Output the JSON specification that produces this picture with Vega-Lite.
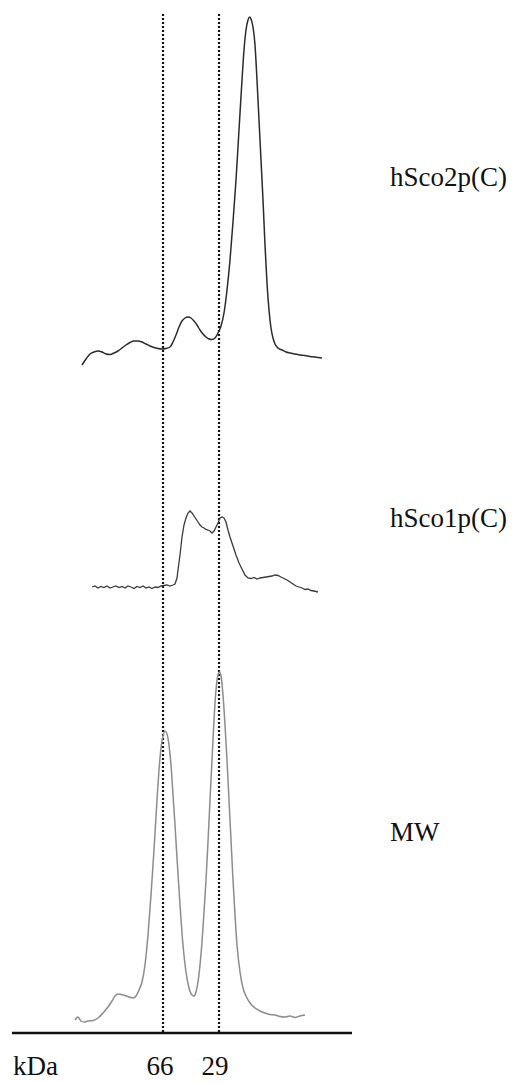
{
  "$schema": "https://vega.github.io/schema/vega-lite/v6.json",
  "width": 525,
  "height": 1082,
  "autosize": "none",
  "padding": 0,
  "background": "white",
  "config": {"view": {"stroke": null}},
  "datasets": {
    "traces": [
      {"sample": "hSco2p(C)", "pos": 82, "signal": 365}, {"sample": "hSco2p(C)", "pos": 86, "signal": 359}, {"sample": "hSco2p(C)", "pos": 90, "signal": 354}, {"sample": "hSco2p(C)", "pos": 94, "signal": 352}, {"sample": "hSco2p(C)", "pos": 98, "signal": 351}, {"sample": "hSco2p(C)", "pos": 102, "signal": 352}, {"sample": "hSco2p(C)", "pos": 106, "signal": 354}, {"sample": "hSco2p(C)", "pos": 110, "signal": 354.5}, {"sample": "hSco2p(C)", "pos": 114, "signal": 353}, {"sample": "hSco2p(C)", "pos": 118, "signal": 351}, {"sample": "hSco2p(C)", "pos": 122, "signal": 348}, {"sample": "hSco2p(C)", "pos": 126, "signal": 345}, {"sample": "hSco2p(C)", "pos": 130, "signal": 342.5}, {"sample": "hSco2p(C)", "pos": 134, "signal": 341}, {"sample": "hSco2p(C)", "pos": 138, "signal": 341}, {"sample": "hSco2p(C)", "pos": 142, "signal": 342}, {"sample": "hSco2p(C)", "pos": 146, "signal": 344}, {"sample": "hSco2p(C)", "pos": 150, "signal": 346}, {"sample": "hSco2p(C)", "pos": 154, "signal": 347.5}, {"sample": "hSco2p(C)", "pos": 158, "signal": 348.5}, {"sample": "hSco2p(C)", "pos": 162, "signal": 349}, {"sample": "hSco2p(C)", "pos": 166, "signal": 348.5}, {"sample": "hSco2p(C)", "pos": 170, "signal": 347}, {"sample": "hSco2p(C)", "pos": 173, "signal": 342}, {"sample": "hSco2p(C)", "pos": 176, "signal": 335}, {"sample": "hSco2p(C)", "pos": 179, "signal": 327}, {"sample": "hSco2p(C)", "pos": 182, "signal": 321}, {"sample": "hSco2p(C)", "pos": 185, "signal": 318}, {"sample": "hSco2p(C)", "pos": 188, "signal": 317}, {"sample": "hSco2p(C)", "pos": 191, "signal": 318}, {"sample": "hSco2p(C)", "pos": 194, "signal": 321}, {"sample": "hSco2p(C)", "pos": 197, "signal": 325}, {"sample": "hSco2p(C)", "pos": 200, "signal": 330}, {"sample": "hSco2p(C)", "pos": 203, "signal": 334}, {"sample": "hSco2p(C)", "pos": 206, "signal": 337}, {"sample": "hSco2p(C)", "pos": 209, "signal": 339}, {"sample": "hSco2p(C)", "pos": 212, "signal": 339.5}, {"sample": "hSco2p(C)", "pos": 215, "signal": 338}, {"sample": "hSco2p(C)", "pos": 218, "signal": 333}, {"sample": "hSco2p(C)", "pos": 221, "signal": 326}, {"sample": "hSco2p(C)", "pos": 224, "signal": 313}, {"sample": "hSco2p(C)", "pos": 227, "signal": 290}, {"sample": "hSco2p(C)", "pos": 230, "signal": 260}, {"sample": "hSco2p(C)", "pos": 233, "signal": 222}, {"sample": "hSco2p(C)", "pos": 236, "signal": 180}, {"sample": "hSco2p(C)", "pos": 239, "signal": 130}, {"sample": "hSco2p(C)", "pos": 242, "signal": 80}, {"sample": "hSco2p(C)", "pos": 244, "signal": 50}, {"sample": "hSco2p(C)", "pos": 246, "signal": 30}, {"sample": "hSco2p(C)", "pos": 248, "signal": 20}, {"sample": "hSco2p(C)", "pos": 249.5, "signal": 17}, {"sample": "hSco2p(C)", "pos": 251, "signal": 19}, {"sample": "hSco2p(C)", "pos": 253, "signal": 27}, {"sample": "hSco2p(C)", "pos": 255, "signal": 45}, {"sample": "hSco2p(C)", "pos": 257, "signal": 80}, {"sample": "hSco2p(C)", "pos": 259, "signal": 120}, {"sample": "hSco2p(C)", "pos": 261, "signal": 160}, {"sample": "hSco2p(C)", "pos": 263, "signal": 200}, {"sample": "hSco2p(C)", "pos": 265, "signal": 245}, {"sample": "hSco2p(C)", "pos": 267, "signal": 283}, {"sample": "hSco2p(C)", "pos": 269, "signal": 310}, {"sample": "hSco2p(C)", "pos": 271, "signal": 328}, {"sample": "hSco2p(C)", "pos": 273, "signal": 338}, {"sample": "hSco2p(C)", "pos": 275, "signal": 344}, {"sample": "hSco2p(C)", "pos": 278, "signal": 348}, {"sample": "hSco2p(C)", "pos": 282, "signal": 350}, {"sample": "hSco2p(C)", "pos": 286, "signal": 352}, {"sample": "hSco2p(C)", "pos": 290, "signal": 353}, {"sample": "hSco2p(C)", "pos": 295, "signal": 354}, {"sample": "hSco2p(C)", "pos": 300, "signal": 355}, {"sample": "hSco2p(C)", "pos": 305, "signal": 355.5}, {"sample": "hSco2p(C)", "pos": 310, "signal": 356.5}, {"sample": "hSco2p(C)", "pos": 315, "signal": 357}, {"sample": "hSco2p(C)", "pos": 322, "signal": 358},

      {"sample": "hSco1p(C)", "pos": 92, "signal": 587}, {"sample": "hSco1p(C)", "pos": 95, "signal": 586}, {"sample": "hSco1p(C)", "pos": 98, "signal": 588}, {"sample": "hSco1p(C)", "pos": 101, "signal": 586.5}, {"sample": "hSco1p(C)", "pos": 104, "signal": 587.5}, {"sample": "hSco1p(C)", "pos": 107, "signal": 586}, {"sample": "hSco1p(C)", "pos": 110, "signal": 588}, {"sample": "hSco1p(C)", "pos": 113, "signal": 587}, {"sample": "hSco1p(C)", "pos": 116, "signal": 586}, {"sample": "hSco1p(C)", "pos": 119, "signal": 587.5}, {"sample": "hSco1p(C)", "pos": 122, "signal": 586.5}, {"sample": "hSco1p(C)", "pos": 125, "signal": 588}, {"sample": "hSco1p(C)", "pos": 128, "signal": 586}, {"sample": "hSco1p(C)", "pos": 131, "signal": 587}, {"sample": "hSco1p(C)", "pos": 134, "signal": 588.5}, {"sample": "hSco1p(C)", "pos": 137, "signal": 586.5}, {"sample": "hSco1p(C)", "pos": 140, "signal": 587.5}, {"sample": "hSco1p(C)", "pos": 143, "signal": 586}, {"sample": "hSco1p(C)", "pos": 146, "signal": 588}, {"sample": "hSco1p(C)", "pos": 149, "signal": 587}, {"sample": "hSco1p(C)", "pos": 152, "signal": 588.5}, {"sample": "hSco1p(C)", "pos": 155, "signal": 587}, {"sample": "hSco1p(C)", "pos": 158, "signal": 587.5}, {"sample": "hSco1p(C)", "pos": 161, "signal": 586}, {"sample": "hSco1p(C)", "pos": 164, "signal": 585.5}, {"sample": "hSco1p(C)", "pos": 167, "signal": 585}, {"sample": "hSco1p(C)", "pos": 170, "signal": 586}, {"sample": "hSco1p(C)", "pos": 173, "signal": 585}, {"sample": "hSco1p(C)", "pos": 175, "signal": 584}, {"sample": "hSco1p(C)", "pos": 177, "signal": 578}, {"sample": "hSco1p(C)", "pos": 178, "signal": 570}, {"sample": "hSco1p(C)", "pos": 180, "signal": 555}, {"sample": "hSco1p(C)", "pos": 182, "signal": 537}, {"sample": "hSco1p(C)", "pos": 184, "signal": 525}, {"sample": "hSco1p(C)", "pos": 186, "signal": 518}, {"sample": "hSco1p(C)", "pos": 188, "signal": 513}, {"sample": "hSco1p(C)", "pos": 190, "signal": 511}, {"sample": "hSco1p(C)", "pos": 192, "signal": 513}, {"sample": "hSco1p(C)", "pos": 194, "signal": 516}, {"sample": "hSco1p(C)", "pos": 196, "signal": 519}, {"sample": "hSco1p(C)", "pos": 198, "signal": 522}, {"sample": "hSco1p(C)", "pos": 200, "signal": 525}, {"sample": "hSco1p(C)", "pos": 202, "signal": 527}, {"sample": "hSco1p(C)", "pos": 204, "signal": 528}, {"sample": "hSco1p(C)", "pos": 206, "signal": 529.5}, {"sample": "hSco1p(C)", "pos": 208, "signal": 530}, {"sample": "hSco1p(C)", "pos": 210, "signal": 531}, {"sample": "hSco1p(C)", "pos": 212, "signal": 533}, {"sample": "hSco1p(C)", "pos": 214, "signal": 531}, {"sample": "hSco1p(C)", "pos": 216, "signal": 527}, {"sample": "hSco1p(C)", "pos": 218, "signal": 523}, {"sample": "hSco1p(C)", "pos": 220, "signal": 518}, {"sample": "hSco1p(C)", "pos": 222, "signal": 517}, {"sample": "hSco1p(C)", "pos": 224, "signal": 518}, {"sample": "hSco1p(C)", "pos": 226, "signal": 522}, {"sample": "hSco1p(C)", "pos": 228, "signal": 530}, {"sample": "hSco1p(C)", "pos": 230, "signal": 537}, {"sample": "hSco1p(C)", "pos": 233, "signal": 546}, {"sample": "hSco1p(C)", "pos": 236, "signal": 555}, {"sample": "hSco1p(C)", "pos": 239, "signal": 563}, {"sample": "hSco1p(C)", "pos": 242, "signal": 569}, {"sample": "hSco1p(C)", "pos": 245, "signal": 575}, {"sample": "hSco1p(C)", "pos": 248, "signal": 578}, {"sample": "hSco1p(C)", "pos": 251, "signal": 578.5}, {"sample": "hSco1p(C)", "pos": 254, "signal": 577.5}, {"sample": "hSco1p(C)", "pos": 257, "signal": 579}, {"sample": "hSco1p(C)", "pos": 260, "signal": 578}, {"sample": "hSco1p(C)", "pos": 263, "signal": 577.5}, {"sample": "hSco1p(C)", "pos": 266, "signal": 577}, {"sample": "hSco1p(C)", "pos": 269, "signal": 576.5}, {"sample": "hSco1p(C)", "pos": 272, "signal": 576}, {"sample": "hSco1p(C)", "pos": 275, "signal": 575}, {"sample": "hSco1p(C)", "pos": 278, "signal": 575.5}, {"sample": "hSco1p(C)", "pos": 281, "signal": 577}, {"sample": "hSco1p(C)", "pos": 284, "signal": 578.5}, {"sample": "hSco1p(C)", "pos": 287, "signal": 580}, {"sample": "hSco1p(C)", "pos": 290, "signal": 582}, {"sample": "hSco1p(C)", "pos": 293, "signal": 584}, {"sample": "hSco1p(C)", "pos": 296, "signal": 586}, {"sample": "hSco1p(C)", "pos": 299, "signal": 587}, {"sample": "hSco1p(C)", "pos": 302, "signal": 588}, {"sample": "hSco1p(C)", "pos": 305, "signal": 589.5}, {"sample": "hSco1p(C)", "pos": 308, "signal": 589}, {"sample": "hSco1p(C)", "pos": 311, "signal": 590.5}, {"sample": "hSco1p(C)", "pos": 314, "signal": 591}, {"sample": "hSco1p(C)", "pos": 318, "signal": 592},

      {"sample": "MW", "pos": 75, "signal": 1020}, {"sample": "MW", "pos": 78, "signal": 1017}, {"sample": "MW", "pos": 81, "signal": 1021}, {"sample": "MW", "pos": 84, "signal": 1022}, {"sample": "MW", "pos": 88, "signal": 1021}, {"sample": "MW", "pos": 93, "signal": 1020.5}, {"sample": "MW", "pos": 98, "signal": 1018}, {"sample": "MW", "pos": 103, "signal": 1013}, {"sample": "MW", "pos": 108, "signal": 1007}, {"sample": "MW", "pos": 112, "signal": 1001}, {"sample": "MW", "pos": 115, "signal": 996}, {"sample": "MW", "pos": 118, "signal": 994}, {"sample": "MW", "pos": 121, "signal": 994.5}, {"sample": "MW", "pos": 125, "signal": 995.5}, {"sample": "MW", "pos": 129, "signal": 997}, {"sample": "MW", "pos": 133, "signal": 998}, {"sample": "MW", "pos": 136, "signal": 996}, {"sample": "MW", "pos": 139, "signal": 990}, {"sample": "MW", "pos": 142, "signal": 982}, {"sample": "MW", "pos": 145, "signal": 965}, {"sample": "MW", "pos": 148, "signal": 935}, {"sample": "MW", "pos": 151, "signal": 895}, {"sample": "MW", "pos": 154, "signal": 850}, {"sample": "MW", "pos": 157, "signal": 800}, {"sample": "MW", "pos": 159, "signal": 770}, {"sample": "MW", "pos": 161, "signal": 748}, {"sample": "MW", "pos": 163, "signal": 736}, {"sample": "MW", "pos": 165, "signal": 731}, {"sample": "MW", "pos": 167, "signal": 734}, {"sample": "MW", "pos": 169, "signal": 745}, {"sample": "MW", "pos": 171, "signal": 765}, {"sample": "MW", "pos": 173, "signal": 795}, {"sample": "MW", "pos": 175, "signal": 825}, {"sample": "MW", "pos": 177, "signal": 858}, {"sample": "MW", "pos": 180, "signal": 905}, {"sample": "MW", "pos": 183, "signal": 945}, {"sample": "MW", "pos": 186, "signal": 972}, {"sample": "MW", "pos": 189, "signal": 988}, {"sample": "MW", "pos": 192, "signal": 995}, {"sample": "MW", "pos": 194, "signal": 996}, {"sample": "MW", "pos": 196, "signal": 992}, {"sample": "MW", "pos": 198, "signal": 982}, {"sample": "MW", "pos": 200, "signal": 965}, {"sample": "MW", "pos": 202, "signal": 942}, {"sample": "MW", "pos": 204, "signal": 912}, {"sample": "MW", "pos": 206, "signal": 880}, {"sample": "MW", "pos": 208, "signal": 842}, {"sample": "MW", "pos": 210, "signal": 800}, {"sample": "MW", "pos": 212, "signal": 760}, {"sample": "MW", "pos": 214, "signal": 720}, {"sample": "MW", "pos": 216, "signal": 690}, {"sample": "MW", "pos": 218, "signal": 675}, {"sample": "MW", "pos": 219.5, "signal": 672}, {"sample": "MW", "pos": 221, "signal": 676}, {"sample": "MW", "pos": 223, "signal": 695}, {"sample": "MW", "pos": 225, "signal": 725}, {"sample": "MW", "pos": 227, "signal": 760}, {"sample": "MW", "pos": 229, "signal": 800}, {"sample": "MW", "pos": 231, "signal": 840}, {"sample": "MW", "pos": 233, "signal": 880}, {"sample": "MW", "pos": 235, "signal": 915}, {"sample": "MW", "pos": 237, "signal": 945}, {"sample": "MW", "pos": 240, "signal": 972}, {"sample": "MW", "pos": 243, "signal": 988}, {"sample": "MW", "pos": 246, "signal": 996}, {"sample": "MW", "pos": 250, "signal": 1003}, {"sample": "MW", "pos": 255, "signal": 1008}, {"sample": "MW", "pos": 260, "signal": 1011}, {"sample": "MW", "pos": 265, "signal": 1013}, {"sample": "MW", "pos": 270, "signal": 1014.5}, {"sample": "MW", "pos": 275, "signal": 1015}, {"sample": "MW", "pos": 280, "signal": 1016.5}, {"sample": "MW", "pos": 285, "signal": 1017}, {"sample": "MW", "pos": 290, "signal": 1016}, {"sample": "MW", "pos": 295, "signal": 1017.5}, {"sample": "MW", "pos": 300, "signal": 1016}, {"sample": "MW", "pos": 305, "signal": 1015}
    ],
    "markers": [
      {"kDa": "66", "pos": 163, "top": 14, "bottom": 1033},
      {"kDa": "29", "pos": 219, "top": 14, "bottom": 1033}
    ],
    "baseline": [
      {"start": 12, "end": 352, "level": 1033}
    ],
    "leftLabels": [
      {"text": "hSco2p(C)", "pos": 390, "level": 186},
      {"text": "hSco1p(C)", "pos": 390, "level": 527},
      {"text": "MW", "pos": 390, "level": 841},
      {"text": "kDa", "pos": 13, "level": 1075}
    ],
    "tickLabels": [
      {"text": "66", "pos": 160, "level": 1075},
      {"text": "29", "pos": 215, "level": 1075}
    ]
  },
  "layer": [
    {
      "data": {"name": "markers"},
      "mark": {"type": "rule", "color": "#111111", "strokeWidth": 2.2, "strokeDash": [2, 2]},
      "encoding": {
        "x": {"field": "pos", "type": "quantitative", "scale": {"domain": [0, 525], "nice": false, "zero": false}, "axis": null},
        "y": {"field": "top", "type": "quantitative", "scale": {"domain": [0, 1082], "nice": false, "zero": false, "reverse": true}, "axis": null},
        "y2": {"field": "bottom"}
      }
    },
    {
      "data": {"name": "baseline"},
      "mark": {"type": "rule", "color": "#111111", "strokeWidth": 2.5},
      "encoding": {
        "x": {"field": "start", "type": "quantitative"},
        "x2": {"field": "end"},
        "y": {"field": "level", "type": "quantitative"}
      }
    },
    {
      "data": {"name": "traces"},
      "transform": [{"filter": "datum.sample === 'hSco2p(C)'"}],
      "mark": {"type": "line", "color": "#2b2b2b", "strokeWidth": 1.5, "interpolate": "monotone"},
      "encoding": {
        "x": {"field": "pos", "type": "quantitative"},
        "y": {"field": "signal", "type": "quantitative"}
      }
    },
    {
      "data": {"name": "traces"},
      "transform": [{"filter": "datum.sample === 'hSco1p(C)'"}],
      "mark": {"type": "line", "color": "#3a3a3a", "strokeWidth": 1.3, "interpolate": "linear"},
      "encoding": {
        "x": {"field": "pos", "type": "quantitative"},
        "y": {"field": "signal", "type": "quantitative"}
      }
    },
    {
      "data": {"name": "traces"},
      "transform": [{"filter": "datum.sample === 'MW'"}],
      "mark": {"type": "line", "color": "#8c8c8c", "strokeWidth": 1.5, "interpolate": "monotone"},
      "encoding": {
        "x": {"field": "pos", "type": "quantitative"},
        "y": {"field": "signal", "type": "quantitative"}
      }
    },
    {
      "data": {"name": "leftLabels"},
      "mark": {"type": "text", "font": "Liberation Serif", "fontSize": 27, "color": "#111111", "baseline": "alphabetic", "align": "left"},
      "encoding": {
        "x": {"field": "pos", "type": "quantitative"},
        "y": {"field": "level", "type": "quantitative"},
        "text": {"field": "text"}
      }
    },
    {
      "data": {"name": "tickLabels"},
      "mark": {"type": "text", "font": "Liberation Serif", "fontSize": 27, "color": "#111111", "baseline": "alphabetic", "align": "center"},
      "encoding": {
        "x": {"field": "pos", "type": "quantitative"},
        "y": {"field": "level", "type": "quantitative"},
        "text": {"field": "text"}
      }
    }
  ]
}
